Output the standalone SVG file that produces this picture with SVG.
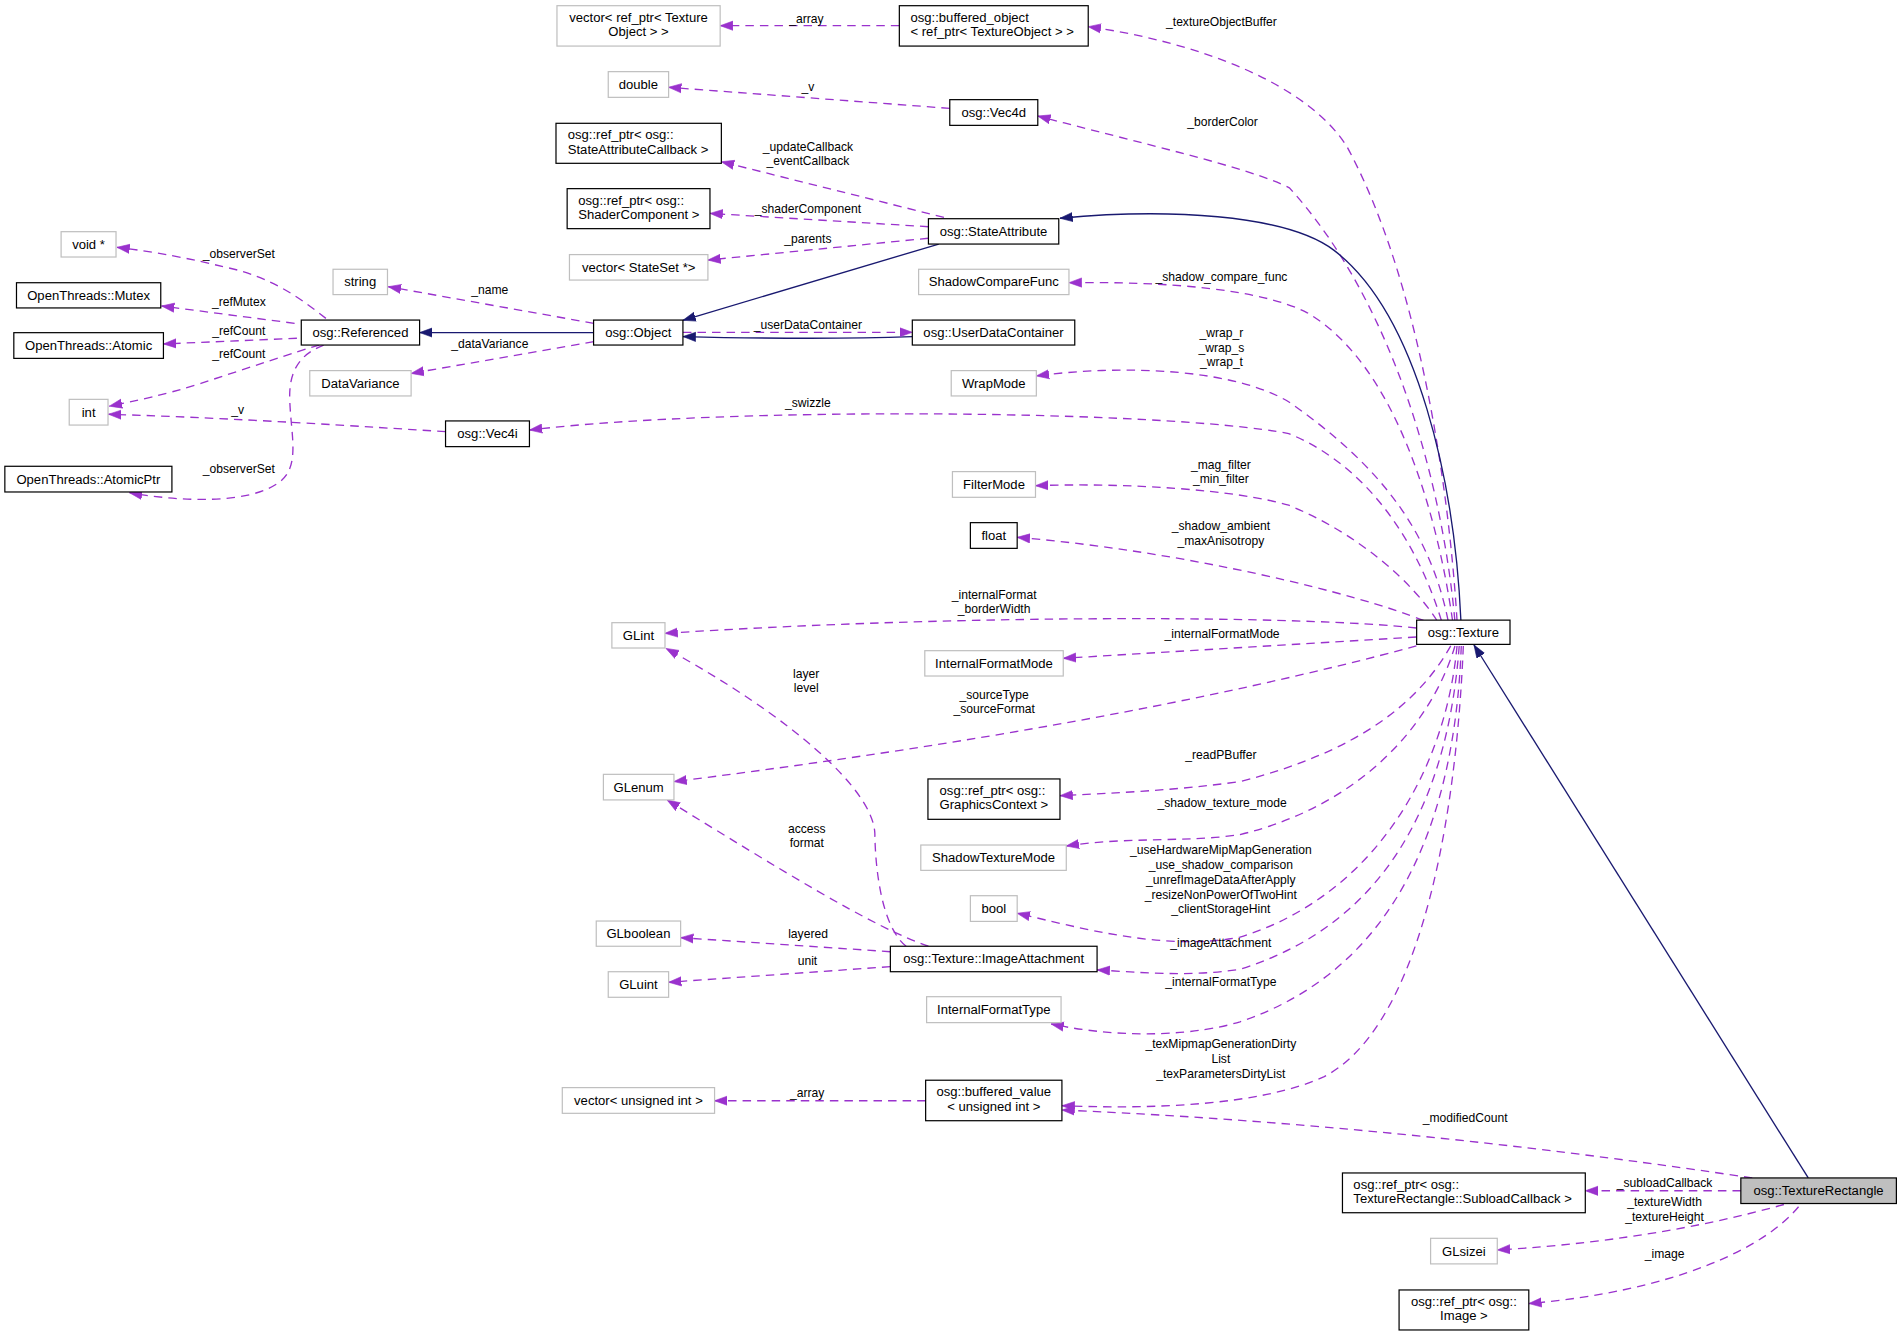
<svg xmlns="http://www.w3.org/2000/svg" width="1901" height="1336" viewBox="0 0 1901 1336">
<style>
.nd rect{fill:#fff;stroke:#000;stroke-width:1}
.gr rect{stroke:#bfbfbf}
.hl rect{fill:#bfbfbf}
text{font-family:"Liberation Sans",Arial,Helvetica,sans-serif;fill:#000}
.nd text{font-size:10.8px}
.c{text-anchor:middle}
.lb{font-size:10px;text-anchor:middle}
.e{fill:none;stroke:#9a32cd;stroke-width:1.1;stroke-dasharray:7,5;marker-end:url(#ap)}
.i{fill:none;stroke:#191970;stroke-width:1.1;marker-end:url(#an)}
</style>
<defs>
<marker id="ap" markerUnits="userSpaceOnUse" viewBox="0 -5 12 10" markerWidth="12" markerHeight="10" refX="10.5" refY="0" orient="auto"><path d="M0,-3.8L10.5,0L0,3.8z" fill="#9a32cd" stroke="#9a32cd" stroke-width="0.5"/></marker>
<marker id="an" markerUnits="userSpaceOnUse" viewBox="0 -5 12 10" markerWidth="12" markerHeight="10" refX="10.5" refY="0" orient="auto"><path d="M0,-3.8L10.5,0L0,3.8z" fill="#191970" stroke="#191970" stroke-width="0.5"/></marker>
</defs>
<rect width="1901" height="1336" fill="#fff"/>
<g transform="scale(1.21237)">
<g id="connectors">
<path class="e" d="M268.8,262.6C250,248 225,228 184,220C160,214 130,208 96.5,204"/>
<path class="e" d="M243,266.7L133.3,252.4"/>
<path class="e" d="M244.9,279L134.8,283.7"/>
<path class="e" d="M263.3,284.6C245,290 200,305 165.7,316.2C135,326 110,331 90.2,335"/>
<path class="e" d="M267,284.6C248,292 238,305 239,330C240,360 248,385 230,398C205,416 150,414 106.8,406.4"/>
<path class="e" d="M367.5,356C300,352 200,345 89.5,341.7"/>
<path class="i" d="M489.6,274.3L346.1,274.3"/>
<path class="e" d="M489.8,266.7L320.3,236.5"/>
<path class="e" d="M489.8,281.8L339.1,308"/>
<path class="i" d="M774.3,201.3L563.3,264.2"/>
<path class="i" d="M752.5,277.7C700,279.5 620,279 563.3,277.6"/>
<path class="e" d="M563.3,274.1L752.5,274.1"/>
<path class="e" d="M778.6,179.3L595,133.4"/>
<path class="e" d="M765.8,187L585.6,176"/>
<path class="e" d="M765.8,196.5L583.9,214.5"/>
<path class="e" d="M741.8,21.2L594,21.2"/>
<path class="e" d="M783.4,89.4L551.5,72"/>
<path class="e" d="M1201.8,511.8C1195,400 1170,230 1111.4,121.7C1080,70 990,35 897.6,22"/>
<path class="e" d="M1200,511.8C1190,400 1150,250 1063.5,154.9C1030,138 940,118 856,95.7"/>
<path class="i" d="M1205,511.8C1200,400 1170,260 1100.4,206.5C1060,176 960,172 874.3,180"/>
<path class="e" d="M1198.1,511.8C1185,420 1150,300 1078.3,258C1040,238 960,232 881.7,233.2"/>
<path class="e" d="M1194.4,511.8C1180,440 1140,385 1063.5,331.8C1020,305 930,300 854.8,310.1"/>
<path class="e" d="M1188.9,511.8C1170,450 1130,385 1063,357.6C960,338 600,335 436.7,354.7"/>
<path class="e" d="M1185.2,511.8C1165,480 1120,440 1063,416.7C1020,404 930,398 854.1,400.6"/>
<path class="e" d="M1174.2,511.8C1120,490 980,455 839,443.2"/>
<path class="e" d="M1168.3,518C1080,508 800,506 548.5,522.4"/>
<path class="e" d="M1168.3,525.4L877,543"/>
<path class="e" d="M1168.3,532.8C1000,578 800,614 555.9,644.7"/>
<path class="e" d="M1196.6,532.8C1170,580 1120,620 1022.8,644.7C970,652 920,654 874.3,656.3"/>
<path class="e" d="M1200.1,532.8C1180,600 1120,665 1022.8,688.4C980,695 930,690 879.5,697.8"/>
<path class="e" d="M1201.8,532.8C1192,640 1130,740 1022.8,773C960,785 890,765 839,753.3"/>
<path class="e" d="M1203.6,532.8C1195,650 1150,760 1022.8,799.5C980,806 940,802 904.9,800"/>
<path class="e" d="M1205.3,532.8C1200,680 1150,800 1022.8,842.8C990,853 930,858 867,844.6"/>
<path class="e" d="M1207,532.8C1200,700 1165,850 1092.3,888C1040,912 950,915 875.9,912"/>
<path class="e" d="M1445.3,971.6C1300,950 1100,925 875.9,915.6"/>
<path class="i" d="M1491.5,971.6L1215.8,532"/>
<path class="e" d="M1436,982.2L1307.6,982.2"/>
<path class="e" d="M1471.4,993.5C1420,1008 1340,1025 1235,1031"/>
<path class="e" d="M1483.5,995.4C1455,1030 1380,1065 1261,1075.2"/>
<path class="e" d="M747.4,780.5C728,765 722,720 721.6,687.4C720,650 650,590 549.3,534.8"/>
<path class="e" d="M765.8,780.5C720,765 640,715 550.3,659.9"/>
<path class="e" d="M734.4,785L561.4,773.4"/>
<path class="e" d="M734.4,797.3L551.5,810.2"/>
<path class="e" d="M763.5,907.9L589.4,907.9"/>
<text class="lb" x="197" y="213">_observerSet</text>
<text class="lb" x="197" y="252.4">_refMutex</text>
<text class="lb" x="197" y="276.3">_refCount</text>
<text class="lb" x="197" y="295">_refCount</text>
<text class="lb" x="196" y="341.8">_v</text>
<text class="lb" x="197" y="390.4">_observerSet</text>
<text class="lb" x="404" y="242.5">_name</text>
<text class="lb" x="404" y="287.3">_dataVariance</text>
<text class="lb" x="665.2" y="18.7">_array</text>
<text class="lb" x="666.4" y="74.8">_v</text>
<text class="lb" x="666.4" y="124.3">_updateCallback<tspan x="666.4" y="136.1">_eventCallback</tspan></text>
<text class="lb" x="666.4" y="176">_shaderComponent</text>
<text class="lb" x="666.4" y="200.2">_parents</text>
<text class="lb" x="666.4" y="271.6">_userDataContainer</text>
<text class="lb" x="666.4" y="336">_swizzle</text>
<text class="lb" x="1007.5" y="21.4">_textureObjectBuffer</text>
<text class="lb" x="1008.4" y="104">_borderColor</text>
<text class="lb" x="1007.5" y="231.5">_shadow_compare_func</text>
<text class="lb" x="1007.5" y="278.2">_wrap_r<tspan x="1007.5" y="290.2">_wrap_s</tspan><tspan x="1007.5" y="302.2">_wrap_t</tspan></text>
<text class="lb" x="1007" y="387">_mag_filter<tspan x="1007" y="398.8">_min_filter</tspan></text>
<text class="lb" x="1007" y="437.5">_shadow_ambient<tspan x="1007" y="449.7">_maxAnisotropy</tspan></text>
<text class="lb" x="820" y="493.7">_internalFormat<tspan x="820" y="505.8">_borderWidth</tspan></text>
<text class="lb" x="1008" y="526.4">_internalFormatMode</text>
<text class="lb" x="820" y="576.5">_sourceType<tspan x="820" y="588.5">_sourceFormat</tspan></text>
<text class="lb" x="665" y="558.9">layer<tspan x="665" y="571.1">level</tspan></text>
<text class="lb" x="1007" y="626">_readPBuffer</text>
<text class="lb" x="1008" y="665.5">_shadow_texture_mode</text>
<text class="lb" x="1007" y="704.6">_useHardwareMipMapGeneration<tspan x="1007" y="716.8">_use_shadow_comparison</tspan><tspan x="1007" y="729">_unrefImageDataAfterApply</tspan><tspan x="1007" y="741.2">_resizeNonPowerOfTwoHint</tspan><tspan x="1007" y="753.4">_clientStorageHint</tspan></text>
<text class="lb" x="665.5" y="687">access<tspan x="665.5" y="699">format</tspan></text>
<text class="lb" x="1007" y="781">_imageAttachment</text>
<text class="lb" x="666.5" y="773.3">layered</text>
<text class="lb" x="666" y="795.9">unit</text>
<text class="lb" x="1007" y="813.2">_internalFormatType</text>
<text class="lb" x="1007" y="864.8">_texMipmapGenerationDirty<tspan x="1007" y="876.8">List</tspan><tspan x="1007" y="888.8">_texParametersDirtyList</tspan></text>
<text class="lb" x="665.7" y="904.8">_array</text>
<text class="lb" x="1208.5" y="925.4">_modifiedCount</text>
<text class="lb" x="1373" y="978.9">_subloadCallback</text>
<text class="lb" x="1373" y="995.1">_textureWidth<tspan x="1373" y="1007.5">_textureHeight</tspan></text>
<text class="lb" x="1373" y="1037.3">_image</text>
</g>
<g id="n_vecTexObj" class="nd gr"><rect x="459.4" y="4.7" width="134.6" height="33.3"/><text class="c" x="526.7" y="17.9">vector&lt; ref_ptr&lt; Texture<tspan x="526.7" y="29.7">Object &gt; &gt;</tspan></text></g>
<g id="n_bufObj" class="nd"><rect x="741.8" y="4.7" width="155.8" height="33.3"/><text x="751" y="17.9">osg::buffered_object<tspan x="751" y="29.7">&lt; ref_ptr&lt; TextureObject &gt; &gt;</tspan></text></g>
<g id="n_double" class="nd gr"><rect x="501.7" y="59.1" width="49.8" height="21.2"/><text class="c" x="526.6" y="73.4">double</text></g>
<g id="n_Vec4d" class="nd"><rect x="783.4" y="82.2" width="72.6" height="21.2"/><text class="c" x="819.7" y="96.5">osg::Vec4d</text></g>
<g id="n_SACallback" class="nd"><rect x="458.6" y="101.7" width="136.4" height="33"/><text x="468.3" y="114.9">osg::ref_ptr&lt; osg::<tspan x="468.3" y="126.7">StateAttributeCallback &gt;</tspan></text></g>
<g id="n_ShaderComp" class="nd"><rect x="467.8" y="155.6" width="117.8" height="33"/><text x="477" y="168.8">osg::ref_ptr&lt; osg::<tspan x="477" y="180.6">ShaderComponent &gt;</tspan></text></g>
<g id="n_vecStateSet" class="nd gr"><rect x="469.7" y="210" width="114.2" height="21"/><text class="c" x="526.8" y="224.2">vector&lt; StateSet *&gt;</text></g>
<g id="n_StateAttribute" class="nd"><rect x="765.8" y="180.4" width="107.5" height="20.9"/><text class="c" x="819.5" y="194.6">osg::StateAttribute</text></g>
<g id="n_ShadowCompareFunc" class="nd gr"><rect x="757.7" y="222.1" width="124" height="20.9"/><text class="c" x="819.7" y="236.3">ShadowCompareFunc</text></g>
<g id="n_void" class="nd gr"><rect x="50.4" y="191.1" width="45.3" height="20.9"/><text class="c" x="73" y="205.3">void *</text></g>
<g id="n_Mutex" class="nd"><rect x="13.6" y="233.2" width="119" height="20.8"/><text class="c" x="73.1" y="247.4">OpenThreads::Mutex</text></g>
<g id="n_string" class="nd gr"><rect x="274.7" y="222.1" width="44.9" height="20.9"/><text class="c" x="297.1" y="236.3">string</text></g>
<g id="n_Referenced" class="nd"><rect x="248.5" y="264" width="97.6" height="20.6"/><text class="c" x="297.3" y="278">osg::Referenced</text></g>
<g id="n_Object" class="nd"><rect x="489.6" y="264" width="73.7" height="20.6"/><text class="c" x="526.5" y="278">osg::Object</text></g>
<g id="n_UDC" class="nd"><rect x="752.5" y="264" width="134" height="20.6"/><text class="c" x="819.5" y="278">osg::UserDataContainer</text></g>
<g id="n_Atomic" class="nd"><rect x="11.4" y="274.4" width="123.4" height="21.2"/><text class="c" x="73.1" y="288.7">OpenThreads::Atomic</text></g>
<g id="n_DataVariance" class="nd gr"><rect x="255.5" y="305.7" width="83.6" height="20.9"/><text class="c" x="297.3" y="319.9">DataVariance</text></g>
<g id="n_WrapMode" class="nd gr"><rect x="784.6" y="305.7" width="70.2" height="20.9"/><text class="c" x="819.7" y="319.9">WrapMode</text></g>
<g id="n_int" class="nd gr"><rect x="57.1" y="329.4" width="32" height="21.2"/><text class="c" x="73.1" y="343.7">int</text></g>
<g id="n_Vec4i" class="nd"><rect x="367.5" y="347.2" width="69.2" height="21.2"/><text class="c" x="402.1" y="361.5">osg::Vec4i</text></g>
<g id="n_AtomicPtr" class="nd"><rect x="4" y="384.6" width="137.8" height="21.2"/><text class="c" x="72.9" y="398.9">OpenThreads::AtomicPtr</text></g>
<g id="n_FilterMode" class="nd gr"><rect x="785.6" y="389" width="68.5" height="21.2"/><text class="c" x="819.9" y="403.3">FilterMode</text></g>
<g id="n_float" class="nd"><rect x="800.4" y="431.1" width="38.6" height="21.2"/><text class="c" x="819.7" y="445.4">float</text></g>
<g id="n_Texture" class="nd"><rect x="1168.5" y="511.5" width="77" height="20"/><text class="c" x="1207" y="525.2">osg::Texture</text></g>
<g id="n_GLint" class="nd gr"><rect x="504.7" y="513.6" width="43.8" height="20.9"/><text class="c" x="526.6" y="527.8">GLint</text></g>
<g id="n_InternalFormatMode" class="nd gr"><rect x="762.8" y="536.7" width="114.2" height="20.9"/><text class="c" x="819.9" y="550.9">InternalFormatMode</text></g>
<g id="n_GLenum" class="nd gr"><rect x="497.7" y="638.7" width="58.2" height="21.1"/><text class="c" x="526.8" y="653">GLenum</text></g>
<g id="n_GraphicsContext" class="nd"><rect x="765.4" y="642.5" width="108.9" height="33.3"/><text x="775" y="655.7">osg::ref_ptr&lt; osg::<tspan x="775" y="667.5">GraphicsContext &gt;</tspan></text></g>
<g id="n_ShadowTextureMode" class="nd gr"><rect x="759.5" y="697" width="120" height="20.9"/><text class="c" x="819.5" y="711.2">ShadowTextureMode</text></g>
<g id="n_bool" class="nd gr"><rect x="800.4" y="738.8" width="38.6" height="21.2"/><text class="c" x="819.7" y="753.1">bool</text></g>
<g id="n_GLboolean" class="nd gr"><rect x="491.8" y="759.7" width="69.6" height="20.8"/><text class="c" x="526.6" y="773.8">GLboolean</text></g>
<g id="n_ImageAttachment" class="nd"><rect x="734.4" y="780.5" width="170.5" height="21"/><text class="c" x="819.6" y="794.7">osg::Texture::ImageAttachment</text></g>
<g id="n_GLuint" class="nd gr"><rect x="501.7" y="801.5" width="49.8" height="21.1"/><text class="c" x="526.6" y="815.8">GLuint</text></g>
<g id="n_InternalFormatType" class="nd gr"><rect x="764.3" y="822.1" width="110.9" height="21.4"/><text class="c" x="819.7" y="836.5">InternalFormatType</text></g>
<g id="n_vecUInt" class="nd gr"><rect x="463.8" y="897.1" width="125.6" height="21.2"/><text class="c" x="526.6" y="911.4">vector&lt; unsigned int &gt;</text></g>
<g id="n_bufVal" class="nd"><rect x="763.5" y="891" width="112.4" height="33.4"/><text class="c" x="819.7" y="904.2">osg::buffered_value<tspan x="819.7" y="916">&lt; unsigned int &gt;</tspan></text></g>
<g id="n_TextureRectangle" class="nd hl"><rect x="1435.9" y="971.6" width="128.3" height="21.1"/><text class="c" x="1500" y="985.9">osg::TextureRectangle</text></g>
<g id="n_SubloadCallback" class="nd"><rect x="1107.3" y="967.5" width="200.3" height="32.8"/><text x="1116.3" y="980.7">osg::ref_ptr&lt; osg::<tspan x="1116.3" y="992.5">TextureRectangle::SubloadCallback &gt;</tspan></text></g>
<g id="n_GLsizei" class="nd gr"><rect x="1180" y="1021.4" width="55" height="21.1"/><text class="c" x="1207.5" y="1035.7">GLsizei</text></g>
<g id="n_Image" class="nd"><rect x="1154" y="1064" width="107" height="33"/><text class="c" x="1207.5" y="1077.2">osg::ref_ptr&lt; osg::<tspan x="1207.5" y="1089">Image &gt;</tspan></text></g>
</g>
</svg>
